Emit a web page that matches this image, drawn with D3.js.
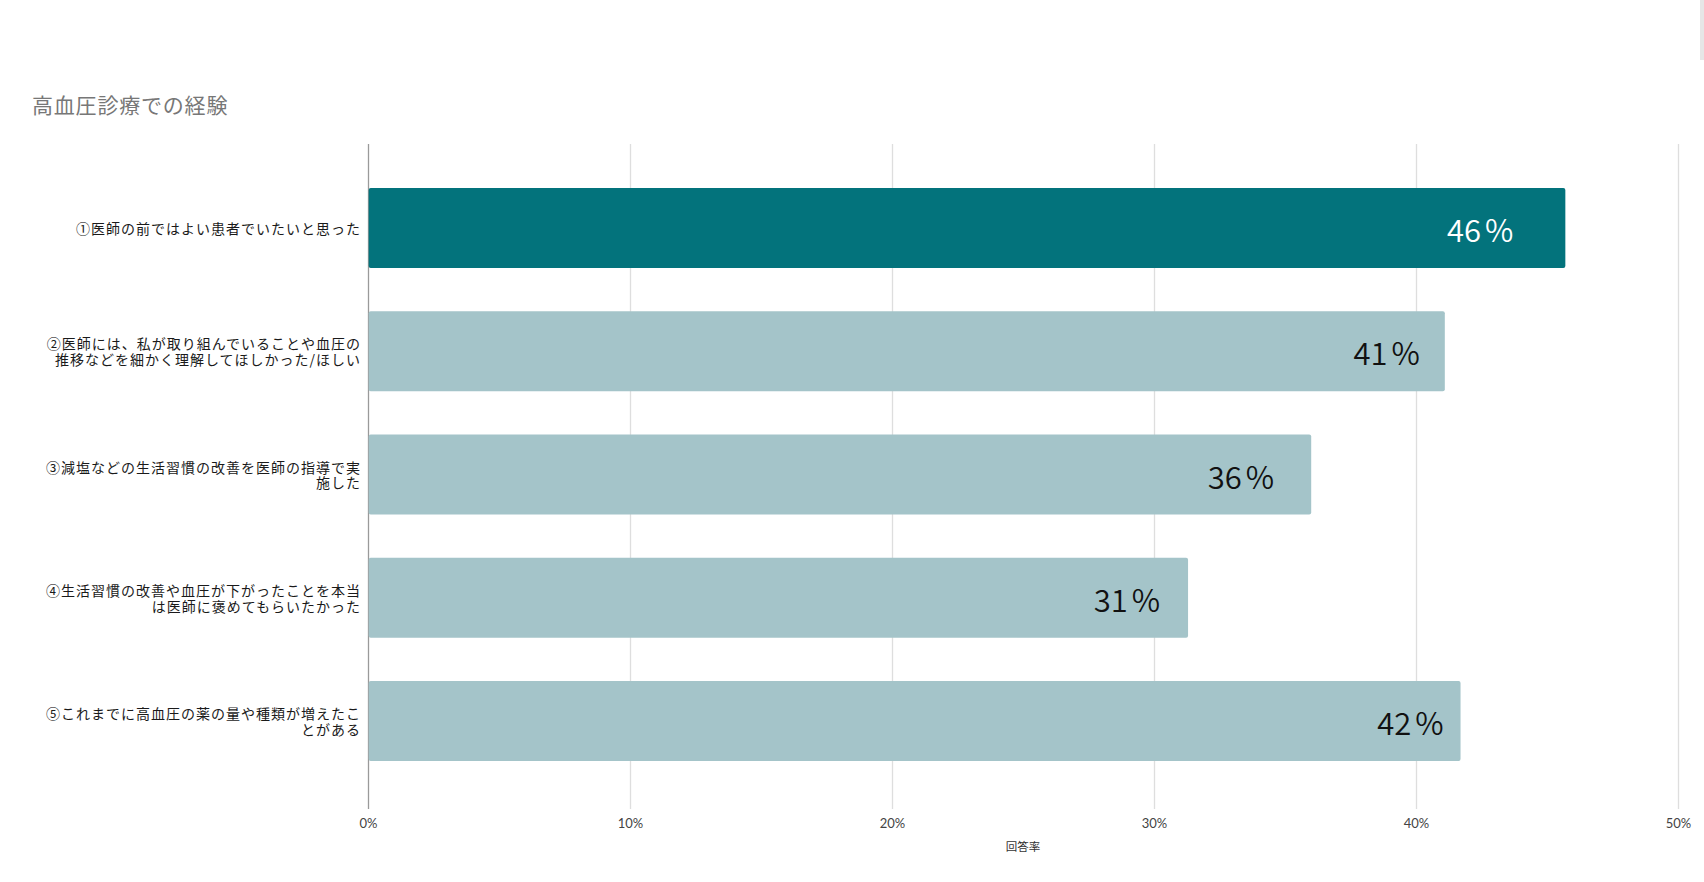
<!DOCTYPE html>
<html>
<head>
<meta charset="utf-8">
<script src="https://cdn.jsdelivr.net/npm/d3@7/dist/d3.min.js"></script>
<style>
  html, body { margin: 0; padding: 0; background: #fff; }
  svg { display: block; }
</style>
</head>
<body>
<svg id="chart" width="1704" height="882"></svg>
<script>
// ---- data ----
const title = "高血圧診療での経験";
const categories = ["c1", "c2", "c3", "c4", "c5"];
const categoryLines = [
  ["①医師の前ではよい患者でいたいと思った"],
  ["②医師には、私が取り組んでいることや血圧の", "推移などを細かく理解してほしかった/ほしい"],
  ["③減塩などの生活習慣の改善を医師の指導で実", "施した"],
  ["④生活習慣の改善や血圧が下がったことを本当", "は医師に褒めてもらいたかった"],
  ["⑤これまでに高血圧の薬の量や種類が増えたこ", "とがある"]
];
const values = [45.7, 41.1, 36.0, 31.3, 41.7];      // percent
const highlight = [true, false, false, false, false];
const tickValues = [0, 10, 20, 30, 40, 50];
const axisTitle = "回答率";

// ---- layout (not data) ----
const labelGaps = [52, 25, 37, 28, 17];
const x0 = 368, x1 = 1678, yTop = 144, yBottom = 805, gridBottom = 809;

const svg = d3.select("#chart");
const x = d3.scaleLinear().domain([0, 50]).range([x0, x1]);
const y = d3.scaleBand().domain(categories).range([yTop, yBottom])
  .paddingInner(0.351).paddingOuter(0.357);

// title
svg.append("text")
  .attr("x", 32).attr("y", 104)
  .attr("dominant-baseline", "central")
  .attr("font-family", "'Noto Sans CJK JP', sans-serif")
  .attr("font-size", 21)
  .attr("letter-spacing", 0.8)
  .attr("fill", "#777")
  .text(title);

// grid lines via axis
const xAxis = d3.axisBottom(x).tickValues(tickValues)
  .tickSize(-(gridBottom - yTop)).tickFormat(d => d + "%");
const gAxis = svg.append("g").attr("transform", `translate(0,${gridBottom})`).call(xAxis);
gAxis.select(".domain").remove();
gAxis.selectAll(".tick line")
  .attr("stroke", d => d === 0 ? "#9a9a9a" : "#dedede")
  .attr("stroke-width", 1.3);
gAxis.selectAll(".tick text")
  .attr("y", 14).attr("dy", "0.35em")
  .attr("font-family", "Lato, 'Noto Sans', sans-serif")
  .attr("font-size", 13)
  .attr("fill", "#444");

// bars
svg.append("g").selectAll("rect")
  .data(values)
  .join("rect")
  .attr("x", x(0) + 0.7)
  .attr("y", (d, i) => y(categories[i]))
  .attr("width", d => x(d) - x(0) - 0.7)
  .attr("height", y.bandwidth())
  .attr("rx", 2)
  .attr("fill", (d, i) => highlight[i] ? "#03737c" : "#a4c4c9");

// value labels
const vl = svg.append("g").selectAll("text")
  .data(values)
  .join("text")
  .attr("x", (d, i) => x(d) - labelGaps[i])
  .attr("y", (d, i) => y(categories[i]) + y.bandwidth() / 2)
  .attr("text-anchor", "end")
  .attr("dominant-baseline", "central")
  .attr("font-family", "'Noto Sans CJK JP', sans-serif")
  .attr("font-size", 31)
  .attr("font-weight", 350)
  .attr("fill", (d, i) => highlight[i] ? "#ffffff" : "#111");
vl.append("tspan").text(d => Math.round(d));
vl.append("tspan").attr("dx", 4).text("%");

// category labels
const lineH = 15.6;
const gCat = svg.append("g");
categoryLines.forEach((lines, i) => {
  const cy = y(categories[i]) + y.bandwidth() / 2;
  lines.forEach((ln, j) => {
    gCat.append("text")
      .attr("text-anchor", "end")
      .attr("font-family", "'Noto Sans CJK JP', sans-serif")
      .attr("font-size", 14)
      .attr("letter-spacing", 1)
      .attr("fill", "#1a1a1a")
      .attr("x", 361)
      .attr("y", cy + (j - (lines.length - 1) / 2) * lineH)
      .attr("dominant-baseline", "central")
      .text(ln);
  });
});

// axis title
svg.append("text")
  .attr("x", (x0 + x1) / 2).attr("y", 846)
  .attr("text-anchor", "middle")
  .attr("dominant-baseline", "central")
  .attr("font-family", "'Noto Sans CJK JP', sans-serif")
  .attr("font-size", 11.5)
  .attr("fill", "#333")
  .text(axisTitle);

// faint scrollbar remnant at top-right
svg.append("rect").attr("x", 1700).attr("y", 0).attr("width", 4).attr("height", 60).attr("fill", "#e6e6e6");
</script>
</body>
</html>
